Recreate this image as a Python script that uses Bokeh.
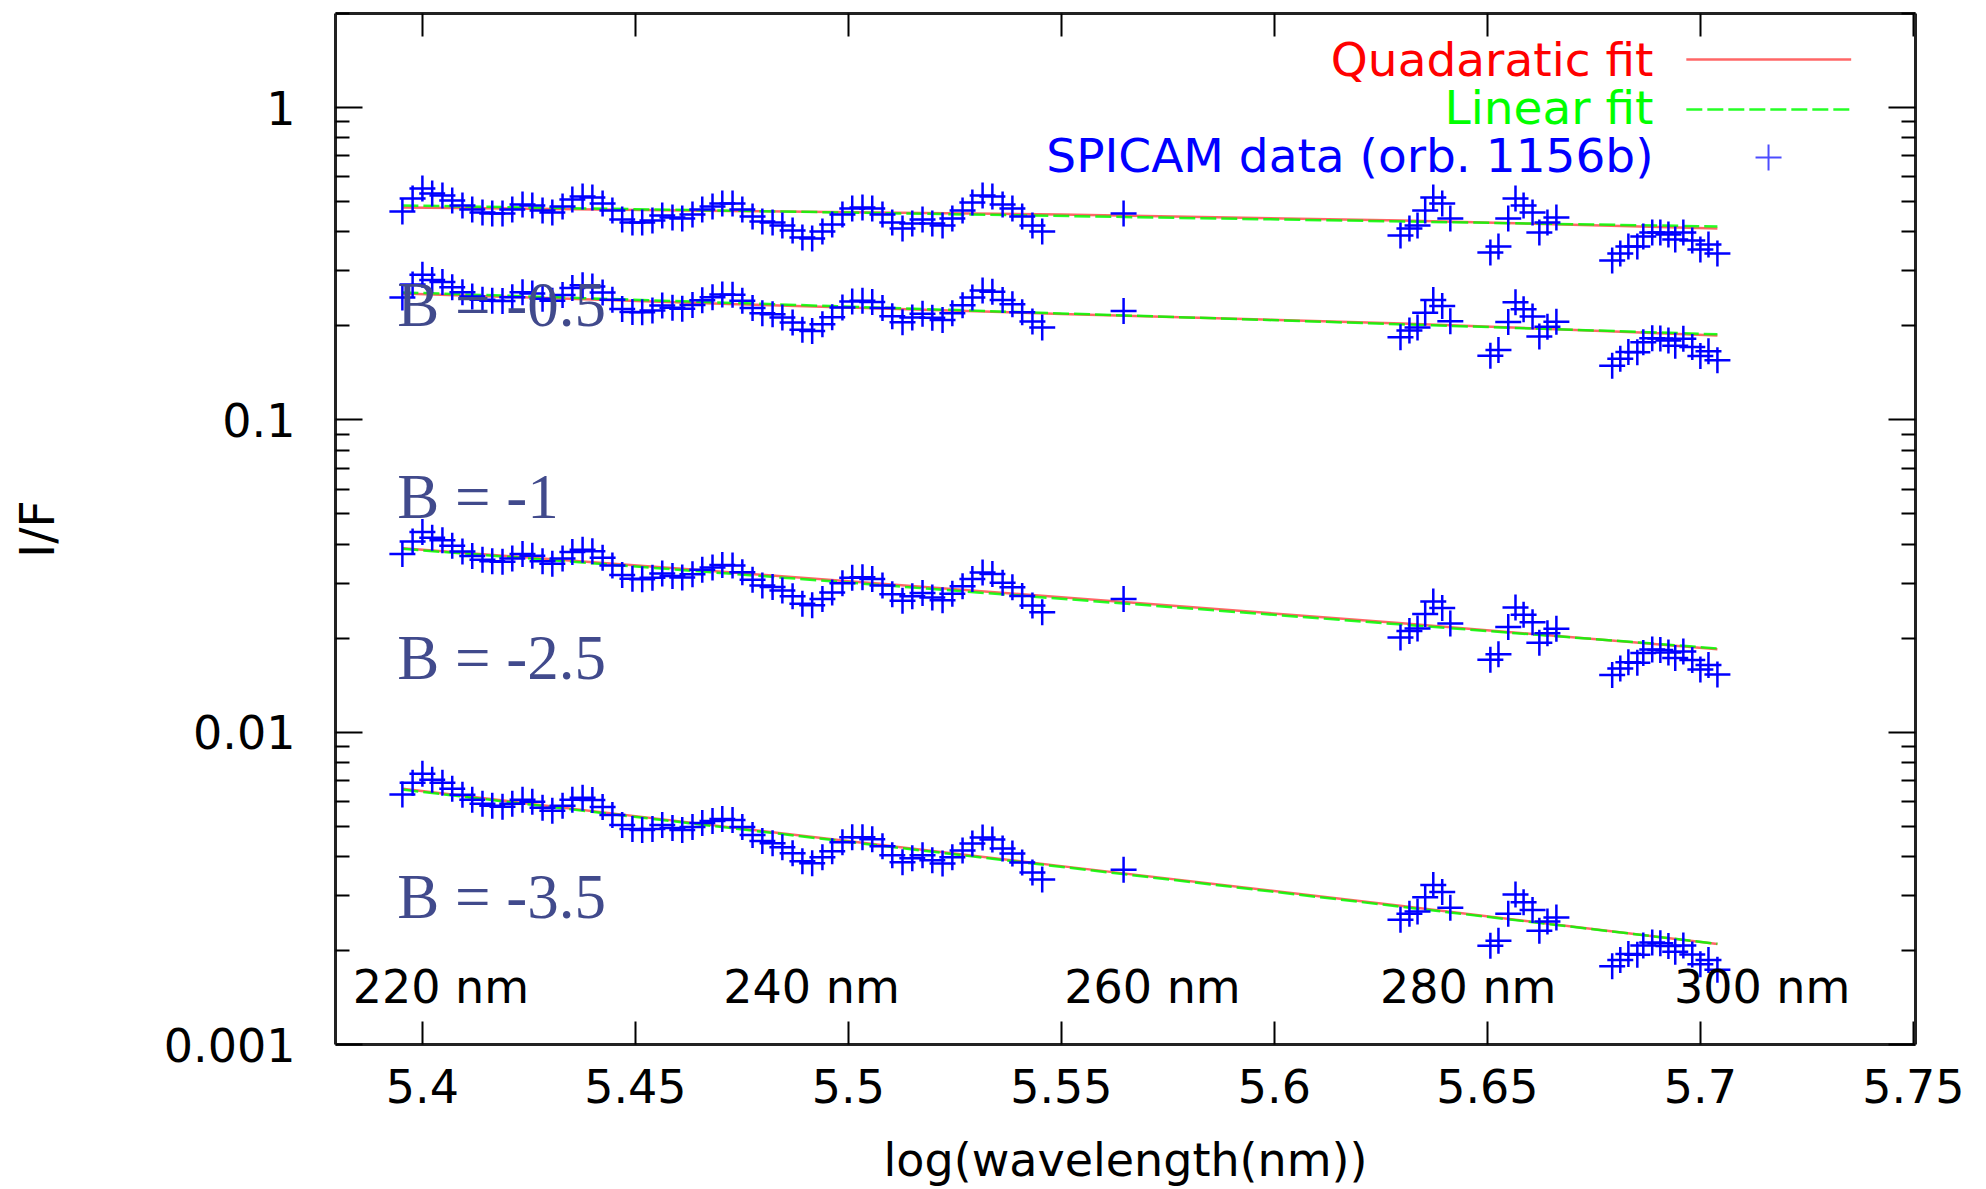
import numpy as np
from bokeh.plotting import figure
from bokeh.models import Range1d, FixedTicker, LinearAxis, LogAxis, Label, Arrow
from bokeh.embed import file_html
from bokeh.resources import INLINE

# ---------------- data ----------------
# x = log(wavelength / nm)
log_wl = [
    5.3953, 5.3977, 5.4000, 5.4023, 5.4047, 5.4070, 5.4094, 5.4117, 5.4141, 5.4164,
    5.4188, 5.4211, 5.4235, 5.4258, 5.4282, 5.4305, 5.4329, 5.4352, 5.4376, 5.4399,
    5.4423, 5.4446, 5.4469, 5.4493, 5.4516, 5.4540, 5.4563, 5.4587, 5.4610, 5.4634,
    5.4657, 5.4681, 5.4704, 5.4728, 5.4751, 5.4775, 5.4798, 5.4822, 5.4845, 5.4869,
    5.4892, 5.4915, 5.4939, 5.4962, 5.4986, 5.5009, 5.5033, 5.5056, 5.5080, 5.5103,
    5.5127, 5.5150, 5.5174, 5.5197, 5.5221, 5.5244, 5.5268, 5.5291, 5.5315, 5.5338,
    5.5362, 5.5385, 5.5408, 5.5432, 5.5455,
    5.5646,
    5.6296, 5.6317, 5.6336, 5.6354, 5.6373, 5.6394, 5.6413,
    5.6507, 5.6526, 5.6549, 5.6566, 5.6585, 5.6606, 5.6622, 5.6641, 5.6662,
    5.6793, 5.6812, 5.6831, 5.6852, 5.6866, 5.6887, 5.6906, 5.6925, 5.6941, 5.6960,
    5.6981, 5.7000, 5.7019, 5.7040,
]

if_b05 = [
    0.4647, 0.5114, 0.5506, 0.5307, 0.5230, 0.5040, 0.4858, 0.4716, 0.4613, 0.4580,
    0.4580, 0.4716, 0.4893, 0.4858, 0.4682, 0.4613, 0.4822, 0.5077, 0.5191, 0.5152,
    0.4930, 0.4682, 0.4381, 0.4285, 0.4285, 0.4349, 0.4513, 0.4446, 0.4414, 0.4546,
    0.4716, 0.4822, 0.4930, 0.4930, 0.4716, 0.4480, 0.4317, 0.4285, 0.4191, 0.4040,
    0.3837, 0.3809, 0.4010, 0.4222, 0.4546, 0.4751, 0.4786, 0.4751, 0.4546, 0.4285,
    0.4100, 0.4254, 0.4381, 0.4254, 0.4191, 0.4414, 0.4682, 0.4966, 0.5230, 0.5191,
    0.4893, 0.4751, 0.4480, 0.4191, 0.4010,
    0.4580,
    0.3894, 0.4100, 0.4191, 0.4682, 0.5152, 0.4930, 0.4414,
    0.3436, 0.3590, 0.4414, 0.5114, 0.4858, 0.4613, 0.3981, 0.4285, 0.4446,
    0.3239, 0.3411, 0.3590, 0.3590, 0.3865, 0.3981, 0.3981, 0.3923, 0.3781, 0.3981,
    0.3753, 0.3512, 0.3644, 0.3411,
]

if_b1 = [
    0.2466, 0.2711, 0.2915, 0.2806, 0.2763, 0.2659, 0.2560, 0.2482, 0.2425, 0.2405,
    0.2402, 0.2471, 0.2561, 0.2539, 0.2444, 0.2405, 0.2511, 0.2641, 0.2697, 0.2673,
    0.2555, 0.2424, 0.2265, 0.2213, 0.2211, 0.2241, 0.2323, 0.2286, 0.2267, 0.2332,
    0.2416, 0.2467, 0.2520, 0.2517, 0.2405, 0.2282, 0.2196, 0.2177, 0.2127, 0.2048,
    0.1943, 0.1926, 0.2025, 0.2130, 0.2291, 0.2391, 0.2406, 0.2385, 0.2280, 0.2147,
    0.2052, 0.2126, 0.2187, 0.2121, 0.2087, 0.2196, 0.2327, 0.2465, 0.2593, 0.2570,
    0.2420, 0.2347, 0.2210, 0.2065, 0.1974,
    0.2233,
    0.1837, 0.1932, 0.1974, 0.2203, 0.2421, 0.2315, 0.2070,
    0.1604, 0.1675, 0.2057, 0.2381, 0.2260, 0.2144, 0.1848, 0.1988, 0.2060,
    0.1491, 0.1568, 0.1649, 0.1647, 0.1772, 0.1824, 0.1822, 0.1794, 0.1727, 0.1817,
    0.1711, 0.1600, 0.1658, 0.1551,
]

if_b25 = [
    0.03722, 0.04078, 0.04372, 0.04195, 0.04116, 0.03949, 0.03790, 0.03663, 0.03567, 0.03526,
    0.03511, 0.03599, 0.03718, 0.03675, 0.03526, 0.03459, 0.03600, 0.03773, 0.03841, 0.03796,
    0.03616, 0.03419, 0.03185, 0.03101, 0.03088, 0.03120, 0.03224, 0.03162, 0.03126, 0.03205,
    0.03310, 0.03370, 0.03430, 0.03415, 0.03252, 0.03076, 0.02951, 0.02916, 0.02840, 0.02725,
    0.02577, 0.02547, 0.02669, 0.02798, 0.03000, 0.03121, 0.03131, 0.03094, 0.02948, 0.02766,
    0.02635, 0.02722, 0.02791, 0.02698, 0.02647, 0.02775, 0.02931, 0.03095, 0.03245, 0.03207,
    0.03009, 0.02910, 0.02731, 0.02544, 0.02423,
    0.02671,
    0.02010, 0.02109, 0.02148, 0.02391, 0.02622, 0.02499, 0.02228,
    0.01705, 0.01775, 0.02173, 0.02509, 0.02376, 0.02247, 0.01933, 0.02073, 0.02142,
    0.01523, 0.01598, 0.01676, 0.01669, 0.01793, 0.01839, 0.01833, 0.01800, 0.01729, 0.01814,
    0.01704, 0.01588, 0.01642, 0.01531,
]

if_b35 = [
    0.006311, 0.006893, 0.007366, 0.007047, 0.006893, 0.006593, 0.006308, 0.006078, 0.005901, 0.005815,
    0.005772, 0.005899, 0.006075, 0.005986, 0.005727, 0.005600, 0.005810, 0.006072, 0.006162, 0.006070,
    0.005765, 0.005434, 0.005047, 0.004900, 0.004863, 0.004899, 0.005046, 0.004934, 0.004862, 0.004970,
    0.005118, 0.005194, 0.005271, 0.005231, 0.004967, 0.004683, 0.004479, 0.004413, 0.004284, 0.004099,
    0.003864, 0.003807, 0.003978, 0.004157, 0.004443, 0.004609, 0.004608, 0.004541, 0.004312, 0.004034,
    0.003831, 0.003946, 0.004033, 0.003887, 0.003801, 0.003974, 0.004183, 0.004404, 0.004603, 0.004535,
    0.004243, 0.004089, 0.003827, 0.003554, 0.003375,
    0.003630,
    0.002509, 0.002624, 0.002666, 0.002961, 0.003239, 0.003079, 0.002740,
    0.002070, 0.002150, 0.002624, 0.003024, 0.002856, 0.002694, 0.002313, 0.002475, 0.002549,
    0.001781, 0.001864, 0.001950, 0.001937, 0.002076, 0.002123, 0.002111, 0.002067, 0.001982, 0.002075,
    0.001943, 0.001807, 0.001864, 0.001734,
]

# fits
lin_x = [5.3953, 5.7040]
lin_b05 = [0.4858, 0.4160]
lin_b1 = [0.2559, 0.1878]
lin_b25 = [0.03863, 0.01854]
lin_b35 = [0.006551, 0.002100]

quad_x = [5.3953, 5.4720, 5.5500, 5.6300, 5.7040]
quad_b05 = [0.4786, 0.4665, 0.4546, 0.4349, 0.4100]
quad_b1 = [0.2540, 0.2350, 0.2184, 0.2036, 0.1864]
quad_b25 = [0.03880, 0.03251, 0.02704, 0.02233, 0.01843]
quad_b35 = [0.006590, 0.004966, 0.003725, 0.002774, 0.002097]

b_labels = ["B = -0.5", "B = -1", "B = -2.5", "B = -3.5"]
wavelength_marks = [220, 240, 260, 280, 300]

x_ticks = [5.4, 5.45, 5.5, 5.55, 5.6, 5.65, 5.7, 5.75]
x_tick_labels = ["5.4", "5.45", "5.5", "5.55", "5.6", "5.65", "5.7", "5.75"]
y_ticks = [0.001, 0.01, 0.1, 1.0]
y_tick_labels = ["0.001", "0.01", "0.1", "1"]
y_minor = [m * 10.0 ** e for e in range(-3, 1) for m in range(2, 10) if m * 10.0 ** e <= 2.0]

# ---------------- figure ----------------
SANS = "DejaVu Sans"
p = figure(width=1986, height=1189,
           x_range=Range1d(5.3796, 5.7505), y_range=Range1d(0.001, 2.0),
           y_axis_type="log", output_backend="svg", toolbar_location=None,
           min_border_left=335, min_border_right=71, min_border_top=13, min_border_bottom=145)
p.grid.visible = False
p.outline_line_color = None
p.background_fill_color = "white"
p.border_fill_color = "white"


def style_axis(ax, tick_in, minor_in=0):
    ax.axis_line_color = "#222222"
    ax.axis_line_width = 3
    ax.major_tick_line_color = "black"
    ax.major_tick_line_width = 2
    ax.minor_tick_line_color = "black"
    ax.minor_tick_line_width = 2
    ax.major_tick_in = tick_in
    ax.major_tick_out = 0
    ax.minor_tick_in = minor_in
    ax.minor_tick_out = 0
    ax.major_label_text_font = SANS
    ax.major_label_text_font_size = "46px"
    ax.major_label_text_color = "black"


def mirror_only(ax):
    # tick marks only, no labels drawn
    ax.major_label_text_color = None
    ax.major_label_text_font_size = "8px"
    ax.major_label_standoff = 0


xb = p.xaxis[0]
xb.ticker = FixedTicker(ticks=x_ticks, minor_ticks=[])
style_axis(xb, 23)
xb.major_label_overrides = dict(zip(x_ticks, x_tick_labels))
xb.major_label_standoff = 24
xb.axis_label = "log(wavelength(nm))"
xb.axis_label_text_font = SANS
xb.axis_label_text_font_size = "46px"
xb.axis_label_text_font_style = "normal"
xb.axis_label_text_color = "black"
xb.axis_label_standoff = 27

xt = LinearAxis(ticker=FixedTicker(ticks=x_ticks, minor_ticks=[]))
style_axis(xt, 23)
mirror_only(xt)
p.add_layout(xt, "above")

yl = p.yaxis[0]
yl.ticker = FixedTicker(ticks=y_ticks, minor_ticks=y_minor)
style_axis(yl, 27, 14)
yl.major_label_overrides = dict(zip(y_ticks, y_tick_labels))
yl.major_label_standoff = 40
yl.axis_label = "I/F"
yl.axis_label_text_font = SANS
yl.axis_label_text_font_size = "48px"
yl.axis_label_text_font_style = "normal"
yl.axis_label_text_color = "black"
yl.axis_label_standoff = 96

yr = LogAxis(ticker=FixedTicker(ticks=y_ticks, minor_ticks=y_minor))
style_axis(yr, 27, 14)
mirror_only(yr)
p.add_layout(yr, "right")

# ---------------- glyphs ----------------
RED, GREEN, BLUE = "#ff0000", "#00ff00", "#0000ff"
for q in (quad_b05, quad_b1, quad_b25, quad_b35):
    p.line(quad_x, q, line_color=RED, line_width=2.5, line_alpha=0.6)
for l in (lin_b05, lin_b1, lin_b25, lin_b35):
    p.line(lin_x, l, line_color=GREEN, line_width=2.5, line_alpha=0.85, line_dash="16 5")
for s in (if_b05, if_b1, if_b25, if_b35):
    p.scatter(log_wl, s, marker="cross", size=26, line_color=BLUE, line_width=2.5)

# B labels (serif)
b_pos = [(5.3941, 0.2325), (5.3941, 0.0565), (5.3941, 0.01726), (5.3941, 0.002966)]
for txt, (bx, by) in zip(b_labels, b_pos):
    p.add_layout(Label(x=bx, y=by, text=txt, text_font="Liberation Serif",
                       text_font_size="63px", text_color="#414a8c",
                       text_align="left", text_baseline="alphabetic"))

# wavelength markers
for w in wavelength_marks:
    p.add_layout(Label(x=float(np.log(w)) - 0.01, y=0.001529, text=f"{w} nm",
                       text_font=SANS, text_font_size="46px", text_color="black",
                       text_align="left", text_baseline="alphabetic"))

# legend (text on the left, sample on the right)
leg_text_x = 5.6890
legend_rows = [("Quadaratic fit", RED, 1.424), ("Linear fit", GREEN, 1.000),
               ("SPICAM data (orb. 1156b)", BLUE, 0.7024)]
for txt, col, ly in legend_rows:
    p.add_layout(Label(x=leg_text_x, y=ly, text=txt, text_font=SANS,
                       text_font_size="47px", text_color=col,
                       text_align="right", text_baseline="alphabetic"))
p.add_layout(Arrow(x_start=5.6967, y_start=1.424, x_end=5.7354, y_end=1.424, end=None,
                   line_color=RED, line_width=2.5, line_alpha=0.6))
p.add_layout(Arrow(x_start=5.6967, y_start=0.9854, x_end=5.7354, y_end=0.9854, end=None,
                   line_color=GREEN, line_width=2.5, line_alpha=0.85, line_dash="16 5"))
p.scatter([5.7160], [0.6918], marker="cross", size=26, line_color=BLUE, line_width=2, line_alpha=0.7)

open("out.html", "w").write(file_html(p, INLINE))
